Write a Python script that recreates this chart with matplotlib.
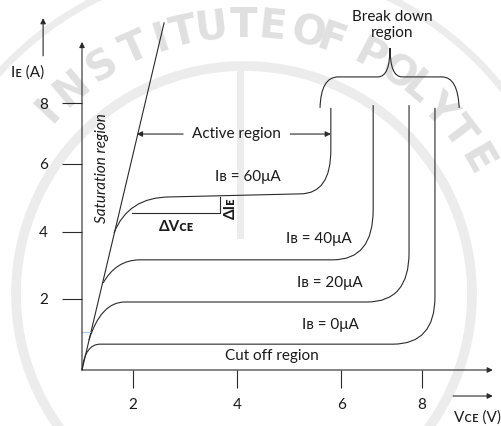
import matplotlib
matplotlib.use("Agg")
import numpy as np
import matplotlib.pyplot as plt
from matplotlib.path import Path
from matplotlib.patches import PathPatch

plt.rcParams['font.family'] = ['Lato', 'DejaVu Sans']

# diagram units: V along x, A along y (the sketch is not drawn to scale,
# so the tick marks sit where the picture puts them)
x_tick_pos = [1.18, 3.59, 6.00, 7.87]
x_tick_labels = ['2', '4', '6', '8']
y_tick_pos = [2.09, 4.06, 6.06, 7.85]
y_tick_labels = ['2', '4', '6', '8']

# saturation line
sat_v = [0.0, 1.90]
sat_i = [0.0, 10.21]

# output curves, one entry per base current
ib_labels = ['Iʙ = 0μA', 'Iʙ = 20μA', 'Iʙ = 40μA', 'Iʙ = 60μA']
ib_start_v = [0.0, 0.16, 0.49, 0.74]
ib_start_i = [0.0, 0.88, 2.56, 4.03]
ib_knee_v = [0.07, 0.44, 0.79, 1.07]
ib_flat_v0 = [0.42, 0.99, 1.34, 2.04]
ib_flat_v1 = [7.20, 6.60, 5.81, 5.05]
ib_flat_i0 = [0.76, 2.00, 3.24, 5.09]
ib_flat_i1 = [0.76, 2.00, 3.24, 5.18]
ib_bd_v = [8.17, 7.57, 6.74, 5.76]
ib_bend_i = [2.15, 3.44, 4.71, 6.47]
ib_top_i = [7.71, 7.79, 7.79, 7.71]

# delta-triangle on the 60uA curve
dv_v = [1.16, 3.19]
di_i = [4.62, 5.09]

# watermark (seal lettering around an arc, in picture pixels)
wm_letters = list('INSTITUTEOFPOLYTE')
wm_angles = [137, 130, 122, 114, 108, 103, 97, 90, 84, 76, 71, 62, 55, 50, 43.5, 37, 30]

LC = '#2a2a2a'
TC = '#1a1a1a'

fig = plt.figure(figsize=(5.02, 4.26), dpi=100)
fig.patch.set_facecolor('white')

# --- watermark layer
wax = fig.add_axes([0, 0, 1, 1], zorder=0)
wax.set_xlim(0, 502)
wax.set_ylim(426, 0)
wax.axis('off')
cx, cy = 244, 294
for r, lw in [(228, 7), (330, 5)]:
    wax.add_patch(plt.Circle((cx, cy), r, fill=False, lw=lw, color='#ececec'))
wax.plot([240, 240], [65, 235], color='#ececec', lw=5)
for ch, a in zip(wm_letters, wm_angles):
    t = np.radians(a)
    wax.text(cx + 268 * np.cos(t), cy - 268 * np.sin(t), ch, rotation=a - 90,
             ha='center', va='center', fontsize=29, fontweight='bold',
             color='#e0e0e0', family='DejaVu Sans')

# --- diagram layer
ax = fig.add_axes([0, 0, 1, 1], zorder=1)
ax.patch.set_alpha(0)
ax.set_xlim(-1.898, 9.722)
ax.set_ylim(-1.647, 10.882)

for s in ax.spines.values():
    s.set_visible(False)
ax.spines['left'].set_position(('data', 0))
ax.spines['bottom'].set_position(('data', 0))
ax.set_xticks(x_tick_pos, x_tick_labels)
ax.set_yticks(y_tick_pos, y_tick_labels)
ax.tick_params(axis='x', direction='out', length=13, width=0.8, color=LC,
               pad=7, labelsize=11, labelcolor=TC)
ax.tick_params(axis='y', direction='out', length=14.5, width=0.8, color=LC,
               pad=10, labelsize=11, labelcolor=TC)

arrow = dict(arrowstyle='-|>', lw=0.8, color=LC, mutation_scale=8,
             shrinkA=0, shrinkB=0)
# axes with arrow heads
ax.annotate('', xy=(0, 9.65), xytext=(0, 0), arrowprops=arrow)
ax.annotate('', xy=(9.51, 0), xytext=(0, 0), arrowprops=arrow)
# axis titles with their small arrows
ax.annotate('', xy=(-0.90, 10.35), xytext=(-0.90, 9.24), arrowprops=arrow)
ax.text(-1.27, 8.74, 'Iᴇ (A)', ha='center', va='center', fontsize=11, color=TC)
ax.annotate('', xy=(9.51, -0.765), xytext=(8.59, -0.765), arrowprops=arrow)
ax.text(9.70, -1.39, 'Vᴄᴇ (V)', ha='right', va='center', fontsize=11, color=TC)

# saturation line
ax.plot(sat_v, sat_i, color=LC, lw=0.8)
ax.plot([0, 0.185], [1.118, 1.118], color='#a9c8e8', lw=0.8)

# output characteristics
for k in range(len(ib_labels)):
    verts = [(ib_start_v[k], ib_start_i[k]),
             (ib_knee_v[k], ib_flat_i0[k]), (ib_flat_v0[k], ib_flat_i0[k]),
             (ib_flat_v1[k], ib_flat_i1[k]),
             (ib_bd_v[k], ib_flat_i1[k]), (ib_bd_v[k], ib_bend_i[k]),
             (ib_bd_v[k], ib_top_i[k])]
    codes = [Path.MOVETO, Path.CURVE3, Path.CURVE3, Path.LINETO,
             Path.CURVE3, Path.CURVE3, Path.LINETO]
    ax.add_patch(PathPatch(Path(verts, codes), fill=False, lw=0.8, edgecolor=LC))

label_xy = [(5.74, 1.32), (5.74, 2.56), (5.49, 3.85), (3.84, 5.68)]
for lab, (lx, ly) in zip(ib_labels, label_xy):
    ax.text(lx, ly, lab, ha='center', va='center', fontsize=11, color=TC)

# delta construction
ax.plot([dv_v[0], dv_v[1], dv_v[1]], [di_i[0], di_i[0], di_i[1]], color=LC, lw=0.8)
ax.text(2.18, 4.21, 'ΔVᴄᴇ', ha='center', va='center', fontsize=11,
        fontweight='bold', color=TC)
ax.text(3.45, 4.77, 'ΔIᴇ', ha='center', va='center', fontsize=11,
        fontweight='bold', rotation=90, color=TC)

# region labels
ax.text(0.46, 5.94, 'Saturation region', rotation=90, ha='center', va='center',
        fontsize=11, style='italic', color=TC)
ax.text(3.57, 6.94, 'Active region', ha='center', va='center', fontsize=11, color=TC)
ax.annotate('', xy=(1.27, 6.94), xytext=(2.34, 6.94), arrowprops=arrow)
ax.annotate('', xy=(5.76, 6.94), xytext=(4.82, 6.94), arrowprops=arrow)
ax.text(4.40, 0.41, 'Cut off region', ha='center', va='center', fontsize=11, color=TC)
ax.text(7.18, 10.15, 'Break down\nregion', ha='center', va='center', fontsize=11,
        color=TC, linespacing=1.25)

# curly brace over the breakdown lines
brace = [(5.51, 7.71), (5.53, 8.62), (5.93, 8.62), (6.85, 8.62),
         (7.13, 8.62), (7.13, 9.47), (7.13, 8.62), (7.41, 8.62),
         (8.33, 8.62), (8.70, 8.62), (8.73, 7.71)]
bcodes = [Path.MOVETO, Path.CURVE3, Path.CURVE3, Path.LINETO,
          Path.CURVE3, Path.CURVE3, Path.CURVE3, Path.CURVE3,
          Path.LINETO, Path.CURVE3, Path.CURVE3]
ax.add_patch(PathPatch(Path(brace, bcodes), fill=False, lw=0.8, edgecolor=LC))

fig.savefig('out.png', dpi=100)
